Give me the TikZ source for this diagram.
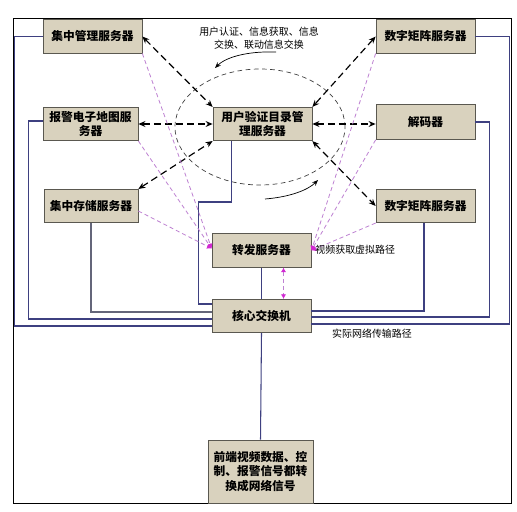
\documentclass[tikz,border=0pt]{standalone}
\usepackage{fontspec}
\setmainfont{Noto Sans CJK SC}
\usetikzlibrary{arrows.meta,calc}
\definecolor{boxfill}{RGB}{217,210,190}
\definecolor{boxedge}{RGB}{90,88,80}
\definecolor{netblue}{RGB}{62,64,128}
\definecolor{netgray}{RGB}{100,102,122}
\definecolor{virtpink}{RGB}{190,130,210}
\definecolor{tipmag}{RGB}{210,40,210}

\begin{document}
\begin{tikzpicture}[x=0.03cm, y=-0.03cm,
  box/.style={rectangle, draw=boxedge, fill=boxfill, line width=0.6pt,
    minimum width=2.97cm, minimum height=1.0cm, align=center, inner sep=1pt,
    font=\fontsize{10}{12.5}\selectfont\bfseries},
  net/.style={draw=netblue, line width=0.9pt},
  link/.style={line width=1pt, dash pattern=on 6pt off 3.5pt,
    {Stealth[length=6pt,width=5pt]}-{Stealth[length=6pt,width=5pt]}},
  virt/.style={draw=virtpink, dash pattern=on 3.5pt off 2.5pt, line width=0.7pt,
    -{Latex[length=4pt,width=4.5pt,color=tipmag]}},
  ring/.style={draw=black!75, dash pattern=on 4pt off 3pt, line width=0.6pt},
  turn/.style={line width=0.6pt, -{Stealth[length=5pt,width=4pt]}},
  note/.style={font=\fontsize{8.5}{11}\selectfont, align=center},
]
\useasboundingbox (0,0) rectangle (517,511);

% Frame
\draw[line width=0.8pt] (13,18) rectangle (511,503);

% Information exchange ring
\draw[ring] (260,127) ellipse [x radius=2.55cm, y radius=1.74cm];

% Servers
\node[box] (mgmt) at (92.5,36.5) {集中管理服务器};
\node[box] (matrixA) at (425.5,36.5) {数字矩阵服务器};
\node[box, minimum width=2.85cm] (emap) at (90.5,124) {报警电子地图服\\务器};
\node[box] (auth) at (262.5,124) {用户验证目录管\\理服务器};
\node[box, minimum height=1.05cm] (decoder) at (425.5,122) {解码器};
\node[box, minimum width=2.82cm] (store) at (91,206) {集中存储服务器};
\node[box] (matrixB) at (425.5,206) {数字矩阵服务器};
\node[box] (relay) at (261.5,250.5) {转发服务器};
\node[box] (core) at (261.5,316) {核心交换机};
\node[box, minimum width=3.15cm, minimum height=1.89cm] (front) at (260.5,471.5)
  {前端视频数据、控\\制、报警信号都转\\换成网络信号};

% Real network paths
\draw[net] ($(auth.south)+(-31,0)$) -- ++(0,61) -- ++(-33,0) |- ($(core.west)+(0,-12)$);
\draw[net, draw=netgray] (store.south) |- ($(core.west)+(0,-4)$);
\draw[net] ($(emap.west)+(0,-3)$) -- ++(-14,0) |- ($(core.west)+(0,3)$);
\draw[net] (mgmt.west) -- ++(-28,0) |- ($(core.west)+(0,10)$);
\draw[net] ($(matrixB.south)+(-1.5,0)$) |- ($(core.east)+(0,-5)$);
\draw[net] (decoder.east) -- ++(14,0) |- ($(core.east)+(0,1)$);
\draw[net] (matrixA.east) -- ++(34,0) |- ($(core.east)+(0,8)$);
\draw[net] (relay.south) -- (core.north);
\draw[net] (core.south) -- (front.north);

% Directory exchange links
\draw[link] (mgmt.east) -- (auth.north west);
\draw[link] (matrixA.west) -- (auth.north east);
\draw[link] (emap.east) -- (auth.west);
\draw[link] (auth.east) -- (decoder.west |- auth.east);
\draw[link] (store.north east) -- (auth.south west);
\draw[link] (auth.south east) -- (matrixB.west);

% Virtual video paths
\coordinate (inL) at ($(relay.west)+(0,-2)$);
\coordinate (inR) at (relay.east);
\draw[virt] (mgmt.south east) -- (inL);
\draw[virt] (emap.south east) -- (inL);
\draw[virt] ($(store.east)+(0,5)$) -- (inL);
\draw[virt] (matrixA.south west) -- (inR);
\draw[virt] (decoder.south west) -- (inR);
\draw[virt] (matrixB.south west) -- (inR);
\draw[virt, {Latex[length=4pt,width=4.5pt,color=tipmag]}-{Latex[length=4pt,width=4.5pt,color=tipmag]}]
  ($(relay.south)+(22,0)$) -- ($(core.north)+(22,0)$);

% Turning arrows
\coordinate (arcA) at (276,52);
\coordinate (arcB) at (215,68);
\coordinate (arcC) at (265,199);
\coordinate (arcD) at (318,180);
\draw[turn] (arcA) .. controls (245,51) and (225,58) .. (arcB);
\draw[turn] (arcC) .. controls (290,197) and (308,190) .. (arcD);

% Labels
\node[note] (exchg) at (259,38) {用户认证、信息获取、信息\\交换、联动信息交换};
\node[note, anchor=west, inner sep=1pt] (vlabel) at (314,250) {视频获取虚拟路径};
\node[note] (rlabel) at (372,334) {实际网络传输路径};

\end{tikzpicture}
\end{document}
